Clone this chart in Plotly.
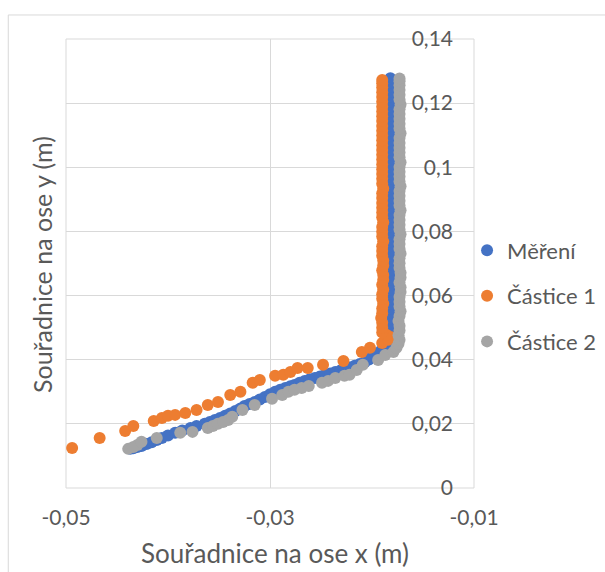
import plotly.graph_objects as go

# Měření (measured trajectory): curved approach, then vertical rise
mereni_x = [
    -0.0437, -0.0434, -0.0430, -0.0426, -0.0421, -0.0416, -0.0411, -0.0406, -0.0400, -0.0393,
    -0.0386, -0.0378, -0.0372, -0.0364, -0.0359, -0.0354, -0.0349, -0.0344, -0.0339, -0.0334,
    -0.0329, -0.0325, -0.0320, -0.0315, -0.0310, -0.0305, -0.0300, -0.0295, -0.0290, -0.0285,
    -0.0280, -0.0276, -0.0271, -0.0266, -0.0261, -0.0256, -0.0251, -0.0246, -0.0241, -0.0236,
    -0.0231, -0.0227, -0.0222, -0.0217, -0.0212, -0.0207, -0.0203, -0.0200, -0.0197, -0.0194,
    -0.0191, -0.0188, -0.0185, -0.0183, -0.0182,
    -0.0182, -0.0182, -0.0182, -0.0183, -0.0182, -0.0182, -0.0182, -0.0182, -0.0183, -0.0182,
    -0.0182, -0.0182, -0.0182, -0.0182, -0.0183, -0.0182, -0.0182, -0.0182, -0.0182, -0.0183,
    -0.0182, -0.0182, -0.0182, -0.0182, -0.0182, -0.0183, -0.0182, -0.0182, -0.0182, -0.0182,
    -0.0183, -0.0182, -0.0182, -0.0182, -0.0182, -0.0182, -0.0183, -0.0182, -0.0182, -0.0182,
    -0.0182, -0.0183, -0.0182, -0.0182, -0.0182, -0.0182, -0.0182, -0.0183, -0.0182, -0.0182,
    -0.0182, -0.0182, -0.0183, -0.0182, -0.0182,
]
mereni_y = [
    0.0122, 0.0124, 0.0128, 0.0131, 0.0137, 0.0143, 0.0150, 0.0156, 0.0164, 0.0172,
    0.0179, 0.0187, 0.0193, 0.0200, 0.0206, 0.0212, 0.0218, 0.0225, 0.0232, 0.0240,
    0.0248, 0.0256, 0.0262, 0.0268, 0.0276, 0.0284, 0.0292, 0.0300, 0.0306, 0.0312,
    0.0317, 0.0321, 0.0328, 0.0334, 0.0339, 0.0343, 0.0348, 0.0353, 0.0357, 0.0362,
    0.0366, 0.0371, 0.0376, 0.0381, 0.0387, 0.0393, 0.0401, 0.0409, 0.0415, 0.0421,
    0.0428, 0.0435, 0.0441, 0.0450, 0.0460,
    0.0470, 0.0485, 0.0500, 0.0514, 0.0529, 0.0545, 0.0560, 0.0574, 0.0590, 0.0605,
    0.0619, 0.0634, 0.0650, 0.0665, 0.0679, 0.0695, 0.0710, 0.0724, 0.0740, 0.0755,
    0.0769, 0.0785, 0.0800, 0.0814, 0.0830, 0.0845, 0.0859, 0.0875, 0.0890, 0.0904,
    0.0920, 0.0935, 0.0949, 0.0965, 0.0980, 0.0994, 0.1010, 0.1025, 0.1039, 0.1055,
    0.1070, 0.1084, 0.1100, 0.1115, 0.1129, 0.1145, 0.1160, 0.1174, 0.1190, 0.1205,
    0.1219, 0.1235, 0.1250, 0.1264, 0.1278,
]

# Částice 1 (simulated particle 1)
castice1_x = [
    -0.0494, -0.0467, -0.0442, -0.0434, -0.0414, -0.0406, -0.0400, -0.0393, -0.0383, -0.0372,
    -0.0361, -0.0351, -0.0339, -0.0329, -0.0317, -0.0310, -0.0295, -0.0287, -0.0280, -0.0273,
    -0.0263, -0.0248, -0.0228, -0.0210, -0.0202, -0.0190, -0.0184, -0.0182,
    -0.0186, -0.0190, -0.0190, -0.0190, -0.0191, -0.0190, -0.0190, -0.0189, -0.0190, -0.0190,
    -0.0189, -0.0190, -0.0189, -0.0189, -0.0190, -0.0189, -0.0189, -0.0190, -0.0190, -0.0190,
    -0.0189, -0.0190, -0.0190, -0.0190, -0.0189, -0.0190, -0.0190, -0.0190, -0.0190, -0.0190,
    -0.0190, -0.0189, -0.0190, -0.0190, -0.0190, -0.0190, -0.0190, -0.0190, -0.0190, -0.0190,
    -0.0190, -0.0190, -0.0190, -0.0190, -0.0190, -0.0190, -0.0190, -0.0190, -0.0190, -0.0190,
    -0.0190, -0.0190, -0.0190, -0.0190, -0.0190,
]
castice1_y = [
    0.0125, 0.0156, 0.0178, 0.0193, 0.0209, 0.0218, 0.0225, 0.0228, 0.0234, 0.0243,
    0.0259, 0.0268, 0.0290, 0.0300, 0.0328, 0.0337, 0.0350, 0.0353, 0.0362, 0.0374,
    0.0374, 0.0384, 0.0396, 0.0424, 0.0437, 0.0452, 0.0462, 0.0471,
    0.0478, 0.0485, 0.0500, 0.0515, 0.0530, 0.0545, 0.0560, 0.0575, 0.0590, 0.0604,
    0.0619, 0.0634, 0.0649, 0.0664, 0.0679, 0.0694, 0.0709, 0.0724, 0.0739, 0.0754,
    0.0769, 0.0784, 0.0799, 0.0814, 0.0829, 0.0844, 0.0859, 0.0874, 0.0889, 0.0904,
    0.0919, 0.0934, 0.0949, 0.0964, 0.0979, 0.0994, 0.1009, 0.1024, 0.1039, 0.1054,
    0.1069, 0.1084, 0.1099, 0.1114, 0.1129, 0.1144, 0.1159, 0.1174, 0.1189, 0.1204,
    0.1219, 0.1234, 0.1249, 0.1262, 0.1272,
]

# Částice 2 (simulated particle 2)
castice2_x = [
    -0.0439, -0.0434, -0.0430, -0.0426, -0.0411, -0.0388, -0.0376, -0.0361, -0.0356, -0.0351,
    -0.0346, -0.0341, -0.0337, -0.0327, -0.0315, -0.0298, -0.0288, -0.0282, -0.0276, -0.0269,
    -0.0262, -0.0249, -0.0243, -0.0236, -0.0227, -0.0222, -0.0215, -0.0209, -0.0194, -0.0187,
    -0.0179, -0.0176,
    -0.0174, -0.0173, -0.0174, -0.0173, -0.0173, -0.0174, -0.0173, -0.0172, -0.0173, -0.0173,
    -0.0173, -0.0172, -0.0172, -0.0173, -0.0172, -0.0172, -0.0173, -0.0173, -0.0173, -0.0172,
    -0.0173, -0.0173, -0.0173, -0.0172, -0.0173, -0.0173, -0.0173, -0.0173, -0.0172, -0.0173,
    -0.0173, -0.0173, -0.0173, -0.0172, -0.0173, -0.0173, -0.0173, -0.0173, -0.0172, -0.0173,
    -0.0173, -0.0173, -0.0173, -0.0173, -0.0172, -0.0173, -0.0173, -0.0173, -0.0173, -0.0173,
    -0.0172, -0.0173, -0.0173, -0.0173, -0.0173, -0.0173, -0.0173,
]
castice2_y = [
    0.0122, 0.0128, 0.0134, 0.0144, 0.0156, 0.0172, 0.0175, 0.0187, 0.0193, 0.0200,
    0.0206, 0.0212, 0.0222, 0.0243, 0.0259, 0.0278, 0.0290, 0.0300, 0.0306, 0.0312,
    0.0318, 0.0328, 0.0334, 0.0343, 0.0350, 0.0353, 0.0368, 0.0384, 0.0399, 0.0415,
    0.0424, 0.0437,
    0.0450, 0.0462, 0.0476, 0.0491, 0.0506, 0.0521, 0.0536, 0.0551, 0.0566, 0.0581,
    0.0596, 0.0611, 0.0626, 0.0641, 0.0656, 0.0671, 0.0686, 0.0701, 0.0716, 0.0731,
    0.0746, 0.0761, 0.0776, 0.0791, 0.0806, 0.0821, 0.0836, 0.0851, 0.0866, 0.0881,
    0.0896, 0.0911, 0.0926, 0.0941, 0.0956, 0.0971, 0.0986, 0.1001, 0.1016, 0.1031,
    0.1046, 0.1061, 0.1076, 0.1091, 0.1106, 0.1121, 0.1136, 0.1151, 0.1166, 0.1181,
    0.1196, 0.1211, 0.1226, 0.1241, 0.1256, 0.1268, 0.1277,
]

x_ticks = [-0.05, -0.03, -0.01]
x_ticktext = ["-0,05", "-0,03", "-0,01"]
y_ticks = [0, 0.02, 0.04, 0.06, 0.08, 0.10, 0.12, 0.14]
y_ticktext = ["0", "0,02", "0,04", "0,06", "0,08", "0,1", "0,12", "0,14"]

FONT = "Lato"
TEXT = "#595959"
GRID = "#d9d9d9"

series = [
    ("Měření", mereni_x, mereni_y, "#4472C4"),
    ("Částice 1", castice1_x, castice1_y, "#ED7D31"),
    ("Částice 2", castice2_x, castice2_y, "#A5A5A5"),
]

fig = go.Figure()
for name, xs, ys, col in series:
    fig.add_trace(go.Scatter(
        x=xs, y=ys, mode="markers", name=name, legendgroup=name,
        marker=dict(color=col, size=12, line=dict(width=0)),
    ))

fig.update_layout(
    width=605, height=572,
    margin=dict(l=66, r=131, t=39, b=84, pad=0, autoexpand=False),
    paper_bgcolor="white", plot_bgcolor="white",
    font=dict(family=FONT, color=TEXT, size=21),
    showlegend=True,
    legend=dict(
        x=0.983, xanchor="left", y=0.576, yanchor="top",
        font=dict(family=FONT, size=22, color=TEXT),
        tracegroupgap=14, itemsizing="constant",
        bgcolor="rgba(0,0,0,0)",
    ),
    xaxis=dict(
        range=[-0.05, -0.01], tickvals=x_ticks, ticktext=x_ticktext,
        showgrid=True, gridcolor=GRID, gridwidth=1,
        showline=False, zeroline=False, ticks="", ticklabelstandoff=15,
        tickfont=dict(family=FONT, size=21, color=TEXT),
    ),
    # vertical axis crosses at the right edge; its labels sit just left of it
    yaxis=dict(
        range=[0, 0.14], tickvals=y_ticks, ticktext=y_ticktext,
        side="left", anchor="free", position=1.0, ticklabelstandoff=21,
        showgrid=True, gridcolor=GRID, gridwidth=1,
        showline=False, zeroline=False, ticks="",
        tickfont=dict(family=FONT, size=21, color=TEXT),
    ),
    annotations=[
        dict(text="Souřadnice na ose x (m)", xref="paper", yref="paper",
             x=0.512, y=-0.1448, xanchor="center", yanchor="middle",
             showarrow=False, font=dict(family=FONT, size=26, color=TEXT)),
        dict(text="Souřadnice na ose y (m)", xref="paper", yref="paper",
             x=-0.0588, y=0.4967, xanchor="center", yanchor="middle",
             textangle=-90, showarrow=False,
             font=dict(family=FONT, size=25, color=TEXT)),
    ],
    shapes=[
        # plot-area frame
        dict(type="rect", xref="paper", yref="paper",
             x0=0, y0=0, x1=1, y1=1,
             line=dict(color=GRID, width=1), fillcolor="rgba(0,0,0,0)",
             layer="below"),
        # chart-area border
        dict(type="rect", xref="paper", yref="paper",
             x0=-0.1415, y0=-0.25, x1=1.4, y1=1.0535,
             line=dict(color=GRID, width=1), fillcolor="rgba(0,0,0,0)",
             layer="below"),
    ],
)

fig.write_html("out.html")
